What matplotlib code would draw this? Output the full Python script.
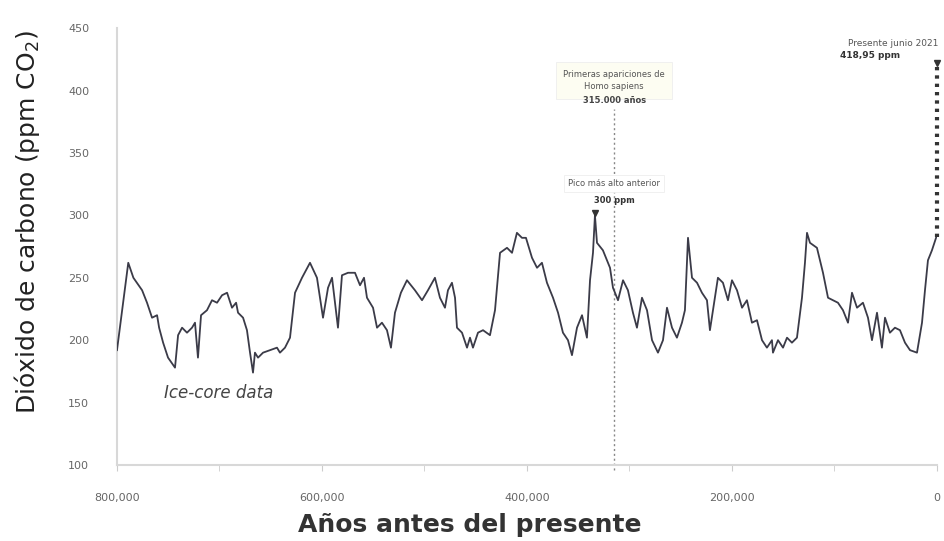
import matplotlib.pyplot as plt
import numpy as np
from matplotlib.ticker import FuncFormatter, MultipleLocator

# Ice-core CO2 record, thousands of years before present vs ppm
edad_ka = [800, 789, 784, 775.5, 770.7, 765.8, 760.9, 758.9, 755, 750.2,
           743.4, 740.4, 736.5, 731.7, 726.8, 723.9, 721, 718, 712.2, 707.3,
           702.4, 697.5, 692.6, 687.8, 683.8, 681.9, 677, 673.2, 670.2, 667.3,
           665.4, 662.4, 657.5, 650.7, 643.9, 641, 636.1, 631.2, 626.3, 619.5,
           611.7, 604.9, 599, 594.1, 590.2, 584.4, 580.5, 574.6, 567.8, 562.9,
           559, 556.1, 550.2, 546.3, 541.5, 536.6, 532.7, 528.8, 523, 517.1,
           509.3, 502.4, 496.6, 489.8, 484.9, 480, 477.1, 473.2, 470.2, 468.3,
           463.4, 458.5, 455.6, 452.7, 447.8, 442.9, 436.1, 431.2, 426.3, 419.5,
           414.6, 409.8, 404.9, 401, 395.1, 390.2, 385.4, 380.5, 374.6, 369.7,
           364.9, 360, 356.1, 351.2, 346.3, 341.5, 338.5, 335.6, 333.7, 331.7,
           325.9, 319, 316.1, 311.2, 306.3, 301.5, 296.6, 292.7, 287.8, 282.9,
           278, 272.2, 267.3, 263.4, 258.5, 253.7, 248.8, 245.9, 242.9, 239,
           234.1, 229.3, 224.4, 221.5, 218.5, 213.7, 208.8, 203.9, 200, 195.1,
           190.2, 185.4, 180.5, 175.6, 170.7, 165.9, 161, 160, 155.1, 150.2,
           146.3, 141.5, 136.6, 131.7, 128.8, 126.8, 123.9, 117.1, 111.2, 106.3,
           101.5, 96.6, 91.7, 86.8, 82.9, 78, 72.2, 67.3, 63.4, 58.5,
           53.7, 50.7, 45.9, 41, 36.1, 31.2, 26.3, 19.5, 14.6, 11.7,
           8.8, 4.9, 0.5]
co2 = [192, 262, 250, 240, 230, 218, 220, 210, 198, 186,
       178, 204, 210, 206, 210, 214, 186, 220, 224, 232,
       230, 236, 238, 226, 230, 222, 218, 208, 190, 174,
       190, 186, 190, 192, 194, 190, 194, 202, 238, 250,
       262, 250, 218, 242, 250, 210, 252, 254, 254, 244,
       250, 234, 226, 210, 214, 208, 194, 222, 238, 248,
       240, 232, 240, 250, 234, 226, 240, 246, 234, 210,
       206, 194, 202, 194, 206, 208, 204, 224, 270, 274,
       270, 286, 282, 282, 266, 258, 262, 246, 234, 222,
       206, 200, 188, 210, 220, 202, 248, 270, 300, 278,
       272, 258, 242, 232, 248, 240, 222, 210, 234, 224,
       200, 190, 200, 226, 210, 202, 214, 224, 282, 250,
       246, 238, 232, 208, 224, 250, 246, 232, 248, 240,
       226, 232, 214, 216, 200, 194, 200, 190, 200, 194,
       202, 198, 202, 234, 262, 286, 278, 274, 254, 234,
       232, 230, 224, 214, 238, 226, 230, 218, 200, 222,
       194, 218, 206, 210, 208, 198, 192, 190, 214, 240,
       264, 272, 283]

edad = np.array(edad_ka) * 1000

# annotated values
pico_anterior = 300          # ppm
edad_pico = 333700           # years
sapiens = 315000             # years
actual = 418.95              # ppm, June 2021

fig = plt.figure(figsize=(9.45, 5.41), dpi=100)
ax = fig.add_axes([0.1238, 0.1405, 0.8677, 0.8075])

linea = '#3b3b48'
gris = '#666666'

ax.plot(edad, co2, color=linea, lw=1.3, zorder=3)

ax.set_xlim(800000, 0)
ax.set_ylim(100, 450)
ax.xaxis.set_major_locator(MultipleLocator(200000))
ax.xaxis.set_minor_locator(MultipleLocator(100000))
ax.yaxis.set_major_locator(MultipleLocator(50))
ax.xaxis.set_major_formatter(FuncFormatter(lambda v, p: f'{int(v):,}'))

for s in ['top', 'right']:
    ax.spines[s].set_visible(False)
for s in ['left', 'bottom']:
    ax.spines[s].set_color('#d8d8d8')
    ax.spines[s].set_linewidth(1.5)

ax.tick_params(axis='x', which='both', direction='out', length=4, color='#cccccc',
               labelsize=8, labelcolor=gris, pad=16)
ax.tick_params(axis='y', length=0, labelsize=8, labelcolor=gris, pad=20)

ax.set_xlabel('Años antes del presente', fontsize=18, fontweight='bold',
              color='#333333')
ax.xaxis.set_label_coords(0.43, -0.11)
ax.set_ylabel('Dióxido de carbono (ppm CO$_2$)', fontsize=18, color='#222222')
ax.yaxis.set_label_coords(-0.092, 0.555)

# dotted marker line for first Homo sapiens
ax.plot([sapiens, sapiens], [96, 385], ls=(0, (1.5, 2)), color='#888888',
        lw=1, clip_on=False, zorder=2)
ax.text(sapiens, 408, 'Primeras apariciones de\nHomo sapiens',
        ha='center', va='center', fontsize=6, color='#555555', linespacing=1.5,
        bbox=dict(boxstyle='square,pad=0.9', fc='#fdfdf2', ec='#eeeeee', lw=0.6))
ax.text(sapiens, 392, '315.000 años', ha='center', va='center',
        fontsize=6, fontweight='bold', color='#444444')

# previous peak
ax.plot(edad_pico, pico_anterior + 2, marker='v', ms=4, color='#333333', zorder=4)
ax.text(sapiens, 325.5, 'Pico más alto anterior', ha='center', va='center',
        fontsize=6, color='#555555',
        bbox=dict(boxstyle='square,pad=0.5', fc='white', ec='#eeeeee', lw=0.6))
ax.text(sapiens, 312, f'{pico_anterior} ppm', ha='center', va='center',
        fontsize=6, fontweight='bold', color='#333333')

# present-day value
ax.plot([0, 0], [co2[-1], actual], ls=(0, (0.8, 1.2)), color='#333333', lw=3,
        clip_on=False, zorder=4)
ax.plot(0, actual + 3, marker='v', ms=5, color='#333333', clip_on=False, zorder=5)
ax.text(43000, 438, 'Presente junio 2021', ha='center', va='center',
        fontsize=6.5, color='#555555')
ax.text(65000, 428, f'{actual:.2f}'.replace('.', ',') + ' ppm',
        ha='center', va='center', fontsize=6.5, fontweight='bold', color='#333333')

ax.text(701000, 158, 'Ice-core data', ha='center', va='center', fontsize=12,
        style='italic', color='#444444')

fig.savefig('out.png', dpi=100, facecolor='white')
